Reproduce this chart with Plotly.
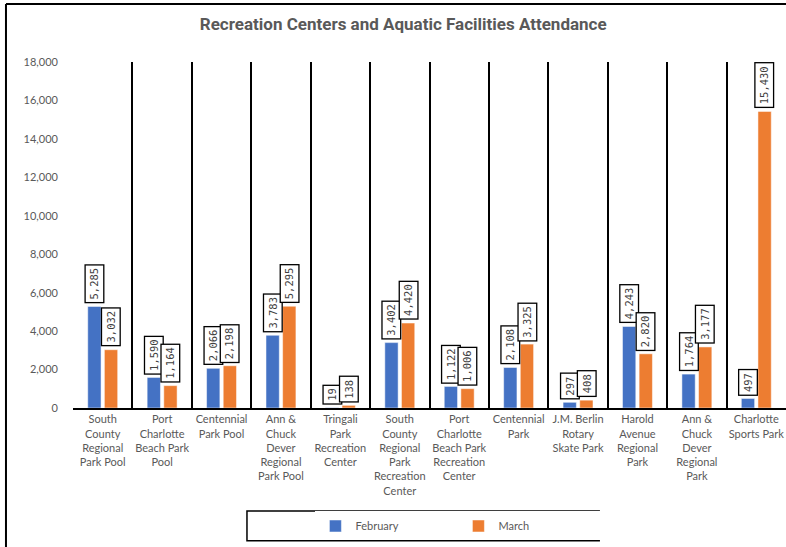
import plotly.graph_objects as go

# facilities (x categories) and wrapped tick labels
facilities = ['South County Regional Park Pool', 'Port Charlotte Beach Park Pool',
              'Centennial Park Pool', 'Ann & Chuck Dever Regional Park Pool',
              'Tringali Park Recreation Center', 'South County Regional Park Recreation Center',
              'Port Charlotte Beach Park Recreation Center', 'Centennial Park',
              'J.M. Berlin Rotary Skate Park', 'Harold Avenue Regional Park',
              'Ann & Chuck Dever Regional Park', 'Charlotte Sports Park']
tick_labels = ['South<br>County<br>Regional<br>Park Pool',
               'Port<br>Charlotte<br>Beach Park<br>Pool',
               'Centennial<br>Park Pool',
               'Ann &<br>Chuck<br>Dever<br>Regional<br>Park Pool',
               'Tringali<br>Park<br>Recreation<br>Center',
               'South<br>County<br>Regional<br>Park<br>Recreation<br>Center',
               'Port<br>Charlotte<br>Beach Park<br>Recreation<br>Center',
               'Centennial<br>Park',
               'J.M. Berlin<br>Rotary<br>Skate Park',
               'Harold<br>Avenue<br>Regional<br>Park',
               'Ann &<br>Chuck<br>Dever<br>Regional<br>Park',
               'Charlotte<br>Sports Park']
february = [5285, 1590, 2066, 3783, 19, 3402, 1122, 2108, 297, 4243, 1764, 497]
march = [3032, 1164, 2198, 5295, 138, 4420, 1006, 3325, 408, 2820, 3177, 15430]

y_ticks = list(range(0, 18001, 2000))

BLUE = '#4472C4'
ORANGE = '#ED7D31'
GREY = '#595959'
TICK_FONT = 'Lato, "Open Sans", sans-serif'

fig = go.Figure()
fig.add_trace(go.Bar(x=facilities, y=february, name='February', marker_color=BLUE,
                     marker_line=dict(color='white', width=0.5)))
fig.add_trace(go.Bar(x=facilities, y=march, name='March', marker_color=ORANGE,
                     marker_line=dict(color='white', width=0.5)))

# boxed, rotated data labels above each bar
for series, shift in ((february, -8.35), (march, 8.35)):
    for cat, val in zip(facilities, series):
        fig.add_annotation(x=cat, y=val, text=f'{val:,}', showarrow=False,
                           textangle=-90, xanchor='center', yanchor='bottom',
                           xshift=shift, yshift=3,
                           font=dict(family='"DejaVu Sans Mono", monospace', size=10.5, color='#404040'),
                           bgcolor='white', bordercolor='black', borderwidth=1.3, borderpad=2.5)

# outer chart frame (only top and left edges are in view) and legend box
fig.add_shape(type='line', xref='paper', yref='paper', x0=-0.094, x1=1.3, y0=1.1676, y1=1.1676,
              line=dict(color='black', width=2), layer='above')
fig.add_shape(type='line', xref='paper', yref='paper', x0=-0.094, x1=-0.094, y0=-0.8, y1=1.1676,
              line=dict(color='black', width=2), layer='above')
fig.add_shape(type='rect', xref='paper', yref='paper', x0=0.244, x1=0.738, y0=-0.384, y1=-0.298,
              line=dict(color='black', width=1.5))

fig.update_layout(
    width=786, height=547,
    margin=dict(l=73, r=0, t=62, b=139, autoexpand=False),
    paper_bgcolor='white', plot_bgcolor='white',
    title=dict(text='<b>Recreation Centers and Aquatic Facilities Attendance</b>',
               x=0.513, xanchor='center', y=0.956, yanchor='middle',
               font=dict(family='Roboto, sans-serif', size=17, color=GREY)),
    barmode='group', bargap=0.44, bargroupgap=0.2,
    showlegend=True,
    legend=dict(orientation='h', x=0.34, xanchor='left', y=-0.341, yanchor='middle',
                entrywidth=98, entrywidthmode='pixels',
                font=dict(family=TICK_FONT, size=11, color=GREY)),
    xaxis=dict(tickmode='array', tickvals=facilities, ticktext=tick_labels,
               tickson='boundaries', showgrid=True, gridcolor='black', gridwidth=1.5,
               showline=True, linecolor='black', linewidth=2, ticks='', automargin=False,
               tickangle=0, tickfont=dict(family=TICK_FONT, size=11, color=GREY)),
    yaxis=dict(range=[0, 18000], tickvals=y_ticks, tickformat=',', showgrid=False,
               zeroline=False, showline=False, ticklabelstandoff=14, automargin=False,
               tickfont=dict(family=TICK_FONT, size=11, color=GREY)),
)

fig.write_html('out.html', config={'displayModeBar': False},
               post_script="document.body.style.margin='0';document.body.style.overflow='hidden';")
